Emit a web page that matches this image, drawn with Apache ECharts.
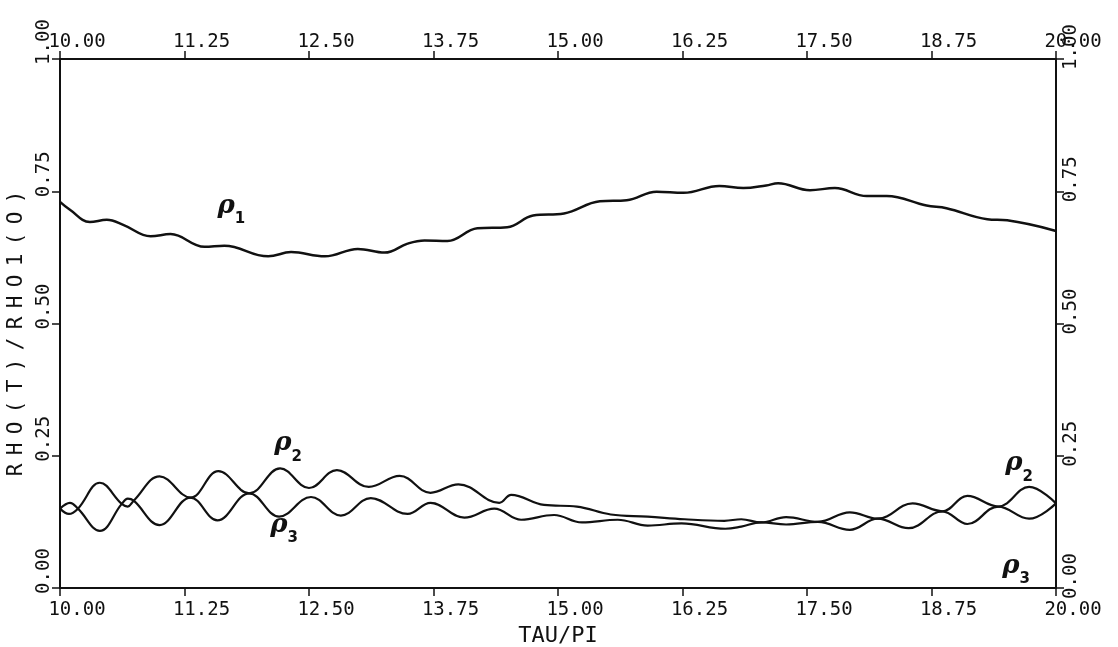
<!DOCTYPE html>
<html>
<head>
<meta charset="utf-8">
<script src="https://cdn.jsdelivr.net/npm/echarts@6/dist/echarts.min.js"></script>
<style>
  html, body { margin: 0; padding: 0; background: #fff; }
  #chart { width: 1118px; height: 647px; }
</style>
</head>
<body>
<div id="chart"></div>
<script>
// tau/pi ticks and values
var xTicks = [10, 11.25, 12.5, 13.75, 15, 16.25, 17.5, 18.75, 20];
var yTicks = [0, 0.25, 0.5, 0.75, 1];

var rho1Tau = [10.00, 10.10, 10.30, 10.47, 10.64, 10.91, 11.11, 11.45, 11.65, 12.09, 12.32, 12.66, 12.99, 13.26,
  13.49, 13.66, 13.89, 14.19, 14.49, 14.75, 15.06, 15.42, 15.69, 15.99, 16.26, 16.62, 16.86, 17.09, 17.21,
  17.53, 17.78, 18.10, 18.30, 18.70, 18.90, 19.31, 19.51, 20.00];
var rho1Val = [0.730, 0.715, 0.692, 0.696, 0.686, 0.665, 0.669, 0.645, 0.647, 0.627, 0.635, 0.627, 0.641, 0.634,
  0.651, 0.657, 0.656, 0.680, 0.682, 0.704, 0.708, 0.731, 0.733, 0.749, 0.747, 0.760, 0.756, 0.761, 0.765,
  0.752, 0.756, 0.741, 0.741, 0.723, 0.718, 0.697, 0.695, 0.675];

var rho2Tau = [10.00, 10.09, 10.18, 10.40, 10.62, 10.68, 10.74, 11.00, 11.31, 11.59, 11.90, 12.21, 12.50, 12.78,
  13.10, 13.41, 13.72, 14.00, 14.41, 14.53, 14.86, 15.19, 15.53, 15.90, 16.27, 16.67, 16.84, 17.04, 17.29,
  17.61, 17.93, 18.21, 18.56, 18.86, 19.11, 19.42, 19.73, 20.00];
var rho2Val = [0.150, 0.140, 0.150, 0.199, 0.159, 0.154, 0.165, 0.211, 0.171, 0.221, 0.179, 0.226, 0.189, 0.223,
  0.191, 0.212, 0.180, 0.196, 0.161, 0.176, 0.157, 0.154, 0.139, 0.135, 0.130, 0.127, 0.130, 0.124, 0.134,
  0.125, 0.143, 0.131, 0.160, 0.145, 0.174, 0.154, 0.191, 0.160];

var rho3Tau = [10.00, 10.10, 10.18, 10.40, 10.62, 10.68, 10.74, 11.00, 11.31, 11.58, 11.90, 12.20, 12.52, 12.82,
  13.12, 13.49, 13.72, 14.06, 14.36, 14.63, 14.96, 15.24, 15.60, 15.90, 16.24, 16.68, 16.84, 17.04, 17.29,
  17.61, 17.93, 18.21, 18.52, 18.86, 19.11, 19.42, 19.73, 20.00];
var rho3Val = [0.150, 0.161, 0.150, 0.108, 0.159, 0.169, 0.165, 0.119, 0.171, 0.128, 0.179, 0.135, 0.172, 0.137,
  0.170, 0.140, 0.161, 0.133, 0.150, 0.129, 0.138, 0.124, 0.129, 0.118, 0.122, 0.112, 0.116, 0.124, 0.120,
  0.125, 0.110, 0.131, 0.113, 0.145, 0.121, 0.154, 0.131, 0.160];

// hand written curve labels: [tau, value, subscript]
var rho1Marks = [[11.72, 0.715, '1']];
var rho2Marks = [[12.29, 0.266, '2'], [19.63, 0.228, '2']];
var rho3Marks = [[12.25, 0.112, '3'], [19.60, 0.034, '3']];

var xName = 'TAU/PI';
var yName = 'RHO(T)/RHO1(O)';

var ink = '#111';
var monoFont = '"DejaVu Sans Mono", "Liberation Mono", monospace';

function pairs(xs, ys) {
  return xs.map(function (x, i) { return [x, ys[i]]; });
}

function marks(list) {
  return list.map(function (m) {
    return {
      coord: [m[0], m[1]],
      label: { formatter: '{r|ρ}{s|' + m[2] + '}' }
    };
  });
}

var tickLabel = {
  color: ink,
  fontFamily: monoFont,
  fontSize: 19,
  formatter: function (v) { return v.toFixed(2); },
  showMinLabel: true,
  showMaxLabel: true
};

function xAxisOf(pos, margin) {
  return {
    type: 'value',
    position: pos,
    min: xTicks[0],
    max: xTicks[xTicks.length - 1],
    interval: 1.25,
    axisLine: { show: true, onZero: false, lineStyle: { color: ink, width: 2 } },
    axisTick: { show: true, inside: false, length: 8, lineStyle: { color: ink, width: 1.5 } },
    axisLabel: Object.assign({}, tickLabel, { margin: margin, padding: [0, 0, 0, 34] }),
    splitLine: { show: false }
  };
}

function yAxisOf(pos, pad) {
  return {
    type: 'value',
    position: pos,
    min: yTicks[0],
    max: yTicks[yTicks.length - 1],
    interval: 0.25,
    axisLine: { show: true, onZero: false, lineStyle: { color: ink, width: 2 } },
    axisTick: { show: true, inside: false, length: 8, lineStyle: { color: ink, width: 1.5 } },
    axisLabel: Object.assign({}, tickLabel, { rotate: 90, margin: 6, padding: [0, 0, 0, pad] }),
    splitLine: { show: false }
  };
}

var markStyle = {
  symbol: 'circle',
  symbolSize: 1,
  itemStyle: { color: 'transparent' },
  label: {
    show: true,
    position: 'inside',
    color: ink,
    rich: {
      r: { fontFamily: '"DejaVu Serif", serif', fontStyle: 'italic', fontWeight: 'bold', fontSize: 26,
        lineHeight: 34, verticalAlign: 'top', color: ink },
      s: { fontFamily: '"DejaVu Sans", sans-serif', fontWeight: 'bold', fontSize: 15,
        lineHeight: 34, verticalAlign: 'bottom', color: ink }
    }
  }
};

function lineSeries(name, data, width, markList) {
  return {
    name: name,
    type: 'line',
    data: data,
    smooth: 0.4,
    showSymbol: false,
    silent: true,
    lineStyle: { color: ink, width: width },
    markPoint: Object.assign({}, markStyle, { data: marks(markList) })
  };
}

var xAxisBottom = xAxisOf('bottom', 13);
xAxisBottom.name = xName;
xAxisBottom.nameLocation = 'middle';
xAxisBottom.nameGap = 32;
xAxisBottom.nameTextStyle = { color: ink, fontFamily: monoFont, fontSize: 22 };

var yAxisLeft = yAxisOf('left', 34);
yAxisLeft.name = yName.split('').map(function (c) { return '{c|' + c + '}'; }).join('');
yAxisLeft.nameLocation = 'middle';
yAxisLeft.nameGap = 27;
yAxisLeft.nameTextStyle = {
  color: ink,
  padding: [0, 20, 0, 0],
  rich: { c: { fontFamily: monoFont, fontSize: 21, width: 21, align: 'center', color: ink } }
};

var option = {
  backgroundColor: '#fff',
  animation: false,
  grid: { left: 60, right: 62, top: 59, bottom: 59, containLabel: false, outerBoundsMode: 'none' },
  xAxis: [xAxisBottom, xAxisOf('top', 7)],
  yAxis: [yAxisLeft, yAxisOf('right', 24)],
  series: [
    lineSeries('rho1', pairs(rho1Tau, rho1Val), 2.5, rho1Marks),
    lineSeries('rho2', pairs(rho2Tau, rho2Val), 2.2, rho2Marks),
    lineSeries('rho3', pairs(rho3Tau, rho3Val), 2.2, rho3Marks)
  ]
};

var chart = echarts.init(document.getElementById('chart'), null, { renderer: 'canvas' });
chart.setOption(option);
</script>
</body>
</html>
